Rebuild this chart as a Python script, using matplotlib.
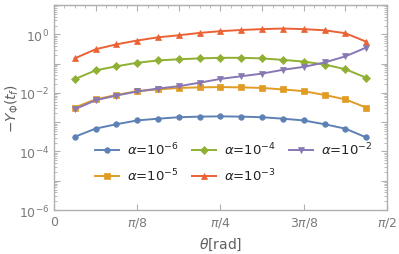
import numpy as np
import matplotlib
matplotlib.use("Agg")
import matplotlib.pyplot as plt
from matplotlib.ticker import FixedLocator, LogLocator, FuncFormatter, NullFormatter

# theta sampled at k*pi/32, k = 1..15
theta = np.arange(1, 16) * np.pi / 32

# log10(-Y_phi)
log_a6 = [-3.50, -3.22, -3.07, -2.94, -2.88, -2.83, -2.81, -2.80,
          -2.81, -2.83, -2.88, -2.94, -3.07, -3.22, -3.52]
log_a5 = [-2.50, -2.22, -2.07, -1.94, -1.88, -1.83, -1.81, -1.80,
          -1.81, -1.83, -1.88, -1.94, -2.07, -2.22, -2.50]
log_a4 = [-1.53, -1.23, -1.09, -0.97, -0.89, -0.85, -0.82, -0.80,
          -0.80, -0.82, -0.87, -0.93, -1.03, -1.19, -1.48]
log_a3 = [-0.82, -0.51, -0.34, -0.21, -0.10, -0.03, 0.05, 0.11,
          0.15, 0.18, 0.20, 0.18, 0.14, 0.04, -0.25]
log_a2 = [-2.56, -2.25, -2.09, -1.95, -1.85, -1.77, -1.65, -1.52,
          -1.43, -1.34, -1.21, -1.11, -0.96, -0.75, -0.45]

labels = [r"$\alpha$=10$^{-6}$", r"$\alpha$=10$^{-5}$", r"$\alpha$=10$^{-4}$",
          r"$\alpha$=10$^{-3}$", r"$\alpha$=10$^{-2}$"]
series = [log_a6, log_a5, log_a4, log_a3, log_a2]
colors = ["#5E81B5", "#E19C24", "#8FB032", "#EB6235", "#8778B3"]
markers = ["o", "s", "D", "^", "v"]
msizes = [4, 4.5, 4, 5, 5]

plt.rcParams["mathtext.fontset"] = "dejavusans"

fig = plt.figure(figsize=(3.99, 2.55), dpi=100)
ax = fig.add_axes([0.135, 0.1725, 0.835, 0.8035])

for vals, lab, c, m, ms in zip(series, labels, colors, markers, msizes):
    ax.plot(theta, 10.0 ** np.array(vals), color=c, marker=m, ms=ms,
            mec=c, mew=0.5, lw=1.4, label=lab)

ax.set_yscale("log")
ax.set_ylim(1e-6, 1e1)
ax.set_xlim(0, np.pi / 2)

for s in ax.spines.values():
    s.set_color("#b0b0b0")
    s.set_linewidth(1.0)

ax.xaxis.set_major_locator(FixedLocator([0, np.pi / 8, np.pi / 4, 3 * np.pi / 8, np.pi / 2]))
ax.set_xticklabels(["0", r"$\pi$/8", r"$\pi$/4", r"3$\pi$/8", r"$\pi$/2"])
ax.yaxis.set_major_locator(LogLocator(base=10, numticks=20))
ax.yaxis.set_minor_locator(LogLocator(base=10, subs=np.arange(2, 10), numticks=20))
ax.yaxis.set_major_formatter(FuncFormatter(
    lambda v, p: r"10$^{%d}$" % round(np.log10(v)) if round(np.log10(v)) % 2 == 0 else ""))
ax.yaxis.set_minor_formatter(NullFormatter())

ax.tick_params(which="both", direction="in", colors="#b0b0b0", labelcolor="#7a7a7a",
               labelsize=9, left=True, right=True, top=False, bottom=True)
ax.tick_params(which="major", length=4, width=0.8)
ax.tick_params(which="minor", length=2, width=0.6)

top = ax.secondary_xaxis("top")
top.xaxis.set_major_locator(FixedLocator(np.arange(0, 9) * np.pi / 16))
top.xaxis.set_minor_locator(FixedLocator(np.arange(0, 33) * np.pi / 64))
top.tick_params(which="both", direction="in", colors="#b0b0b0", labeltop=False)
top.tick_params(which="major", length=4, width=0.8)
top.tick_params(which="minor", length=2, width=0.6)
top.spines["top"].set_color("#b0b0b0")

ax.set_xlabel(r"$\theta$[rad]", color="#606060", fontsize=10)
ax.set_ylabel(r"$-Y_\Phi(t_f)$", color="#606060", fontsize=10)
ax.xaxis.set_label_coords(0.5, -0.125)
ax.yaxis.set_label_coords(-0.10, 0.5)

leg = ax.legend(loc="lower center", bbox_to_anchor=(0.54, 0.07), ncol=3, frameon=False,
                fontsize=9.5, handlelength=1.8, columnspacing=1.0, labelspacing=0.75,
                handletextpad=0.6)
for t in leg.get_texts():
    t.set_color("#222222")

fig.savefig("out.png", dpi=100)
